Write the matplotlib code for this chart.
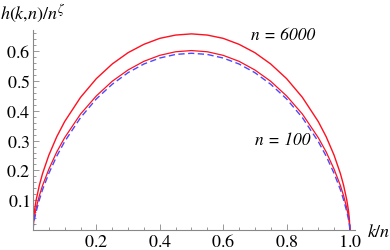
import matplotlib
matplotlib.use("Agg")
import matplotlib.pyplot as plt
from matplotlib.ticker import MultipleLocator

plt.rcParams['mathtext.fontset'] = 'stix'

# k/n positions
k_over_n = [0, 0.002, 0.005, 0.01, 0.02, 0.03, 0.05, 0.075, 0.1, 0.15, 0.2, 0.25,
            0.3, 0.35, 0.4, 0.45, 0.5, 0.55, 0.6, 0.65, 0.7, 0.75, 0.8, 0.85,
            0.9, 0.925, 0.95, 0.97, 0.98, 0.99, 0.995, 0.998, 1.0]

# n = 6000 (red, top)
h_6000 = [0, 0.040, 0.068, 0.101, 0.150, 0.189, 0.251, 0.313, 0.364, 0.445, 0.508, 0.557,
          0.595, 0.623, 0.643, 0.654, 0.658, 0.654, 0.643, 0.623, 0.595, 0.557, 0.508, 0.445,
          0.364, 0.313, 0.251, 0.189, 0.150, 0.101, 0.068, 0.040, 0]

# n = 100 (red, middle)
h_100 = [0, 0.026, 0.047, 0.074, 0.115, 0.149, 0.204, 0.262, 0.310, 0.389, 0.450, 0.499,
         0.537, 0.566, 0.586, 0.598, 0.602, 0.598, 0.586, 0.566, 0.537, 0.499, 0.450, 0.389,
         0.310, 0.262, 0.204, 0.149, 0.115, 0.074, 0.047, 0.026, 0]

# limit curve (blue, dashed)
h_limit = [0, 0.020, 0.038, 0.062, 0.101, 0.135, 0.190, 0.248, 0.297, 0.377, 0.440, 0.489,
           0.528, 0.557, 0.577, 0.589, 0.593, 0.589, 0.577, 0.557, 0.528, 0.489, 0.440, 0.377,
           0.297, 0.248, 0.190, 0.135, 0.101, 0.062, 0.038, 0.020, 0]

x_ticks = [0.2, 0.4, 0.6, 0.8, 1.0]
y_ticks = [0.1, 0.2, 0.3, 0.4, 0.5, 0.6]

fig = plt.figure(figsize=(3.9, 2.5), dpi=100)
ax = fig.add_axes([33 / 390, 20 / 250, 322 / 390, 200 / 250])

ax.plot(k_over_n, h_6000, color='#ff1020', lw=1.0)
ax.plot(k_over_n, h_100, color='#ff1020', lw=0.9)
ax.plot(k_over_n, h_limit, color='#4a4aff', lw=1.0, dashes=(4.5, 2.5))

ax.set_xlim(0, 1.016)
ax.set_ylim(0, 0.671)

for s in ['top', 'right']:
    ax.spines[s].set_visible(False)
for s in ['left', 'bottom']:
    ax.spines[s].set_color('#888888')
    ax.spines[s].set_linewidth(0.8)

ax.set_xticks(x_ticks)
ax.set_yticks(y_ticks)
ax.set_xticklabels([r'$\mathrm{%.1f}$' % v for v in x_ticks])
ax.set_yticklabels([r'$\mathrm{%.1f}$' % v for v in y_ticks])
ax.xaxis.set_minor_locator(MultipleLocator(0.05))
ax.yaxis.set_minor_locator(MultipleLocator(0.02))
ax.tick_params(which='both', direction='in', color='#888888', width=0.6,
               labelsize=13, pad=2)
ax.tick_params(which='major', length=4.5)
ax.tick_params(which='minor', length=2.5)

ax.text(0.688, 0.651, 'n = 6000', fontsize=12.5, family='STIXGeneral',
        style='italic', va='center')
ax.text(0.700, 0.299, 'n = 100', fontsize=12.5, family='STIXGeneral',
        style='italic', va='center')

fig.text(0 / 390, 1 - 14 / 250, r'$h(k{,}n)/n^{\zeta}$', fontsize=13, va='center')
fig.text(367 / 390, 1 - 232 / 250, r'$k/n$', fontsize=13, va='center')

fig.savefig('out.png', dpi=100)
